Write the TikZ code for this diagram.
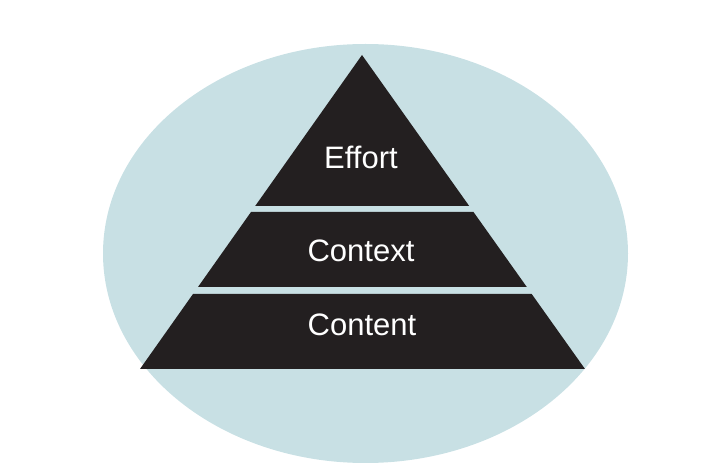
\documentclass[tikz,border=0pt]{standalone}
\usepackage{fontspec}
\setmainfont{Liberation Sans}
\definecolor{bluebg}{RGB}{200,224,228}
\definecolor{pyr}{RGB}{35,31,32}
\tikzset{
  layer/.style={fill=pyr, draw=none},
  lbl/.style={text=white, anchor=base, inner sep=0pt, font=\fontsize{31}{37}\selectfont}
}
\begin{document}
\begin{tikzpicture}[x=1pt,y=-1pt]
\useasboundingbox (0,0) rectangle (713,470);
\fill[bluebg] (365.5,253.5) ellipse [x radius=262.5pt, y radius=209.5pt];
% layers
\fill[layer] (362,55) -- (469.2,206) -- (255.2,206) -- cycle;
\fill[layer] (251,212) -- (473.5,212) -- (526.8,287) -- (198,287) -- cycle;
\fill[layer] (193,294) -- (531.7,294) -- (585,369) -- (140,369) -- cycle;
% labels
\node[lbl] (effort) at (361,169) {Effort};
\node[lbl] (context) at (361,262) {Context};
\node[lbl] (content) at (362,336) {Content};
\end{tikzpicture}
\end{document}
